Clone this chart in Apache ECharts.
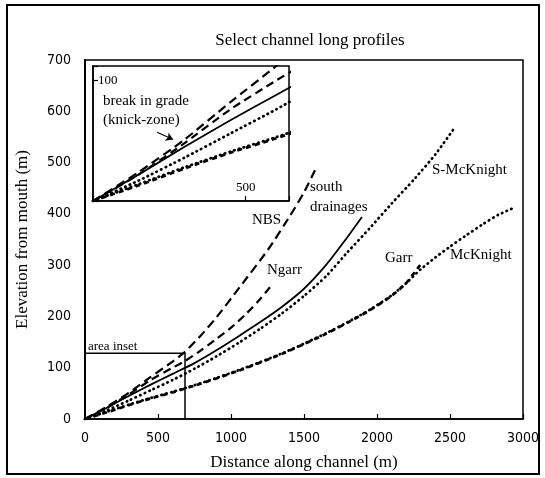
<!DOCTYPE html>
<html><head><meta charset="utf-8">
<script src="https://cdn.jsdelivr.net/npm/echarts@6/dist/echarts.min.js"></script>
<style>html,body{margin:0;padding:0;background:#fff}#c{width:545px;height:478px}</style>
</head><body><div id="c"></div>
<script>
// ---- data (distance along channel m, elevation from mouth m) ----
const nbs = [[0,0],[150,24],[300,51],[450,82],[600,112],[685,131],[800,165],[900,198],[1062,258],[1253,330],[1404,396],[1500,442],[1575,485]];
const ngarr = [[0,0],[150,22],[300,48],[450,76],[600,100],[685,113],[800,135],[900,156],[1000,178],[1100,204],[1200,234],[1267,257]];
const southDrainages = [[0,0],[150,22],[300,45],[450,67],[600,88],[750,109],[900,134],[1050,161],[1200,189],[1350,219],[1500,254],[1650,300],[1780,348],[1897,394]];
const sMcKnight = [[0,0],[150,17],[300,36],[450,56],[600,76],[750,98],[900,122],[1050,148],[1200,176],[1350,206],[1500,240],[1650,278],[1800,326],[1950,372],[2100,420],[2250,466],[2400,516],[2534,569]];
const garr = [[0,0],[150,13],[300,27],[450,40],[600,52],[750,65],[900,79],[1050,94],[1200,110],[1350,127],[1500,146],[1650,166],[1800,188],[1950,212],[2100,240],[2200,265],[2300,302]];
const mcKnight = [[0,0],[150,14],[300,28],[450,41],[600,53],[750,66],[900,80],[1050,95],[1200,111],[1350,128],[1500,147],[1650,167],[1800,189],[1950,213],[2100,241],[2200,265],[2300,292],[2400,315],[2500,336],[2600,356],[2726,380],[2830,398],[2932,411]];
const insetArea = [[0,128],[685,128],[685,0]];
const knickArrow = [[210,57],[262,51]];
const xTickStep = 500, yTickStep = 100;
const xRange = [0,3000], yRange = [0,700];
const insetXRange = [0,642], insetYRange = [0,112];
const insetXLabel = 500, insetYLabel = 100;

const narrow = "'Liberation Sans Narrow','DejaVu Sans Condensed',sans-serif";
const serif = "'Liberation Serif','DejaVu Serif',serif";

const styles = {
  'NBS': {type:[9,5], width:2.2, cap:'butt'},
  'Ngarr': {type:[8,5], width:2.2, cap:'butt'},
  'south drainages': {type:'solid', width:1.8, cap:'butt'},
  'S-McKnight': {type:[0.5,4.5], width:2.7, cap:'round'},
  'Garr': {type:[5,4], width:2.7, cap:'butt'},
  'McKnight': {type:[0.5,4.5], width:2.7, cap:'round'}
};
const dataSets = [['NBS',nbs],['Ngarr',ngarr],['south drainages',southDrainages],['S-McKnight',sMcKnight],['Garr',garr],['McKnight',mcKnight]];

function mk(name, data, idx) {
  const s = styles[name];
  return {
    name, type:'line', data, xAxisIndex:idx, yAxisIndex:idx, smooth:0.2,
    symbol:'none', clip:true, silent:true,
    lineStyle:{color:'#000', width:s.width, type:s.type, cap:s.cap}
  };
}
const series = [];
dataSets.forEach(([n,d]) => series.push(mk(n,d,0)));
dataSets.forEach(([n,d]) => series.push(mk(n,d,1)));
series.push({type:'line', data:insetArea, xAxisIndex:0, yAxisIndex:0, symbol:'none', silent:true,
  lineStyle:{color:'#000', width:1.5}});
series.push({type:'line', data:[], xAxisIndex:1, yAxisIndex:1, symbol:'none', silent:true,
  markLine:{silent:true, symbol:['none','arrow'], symbolSize:7, label:{show:false},
    lineStyle:{color:'#000', width:1.2, type:'solid'},
    data:[[{coord:knickArrow[0]},{coord:knickArrow[1]}]]}});

function txt(text, left, top, size) {
  return {type:'text', left, top, z:100, style:{text, font:`${size}px ${serif}`, fill:'#000'}};
}

const chart = echarts.init(document.getElementById('c'), null, {renderer:'canvas'});
chart.setOption({
  animation:false,
  backgroundColor:'#fff',
  title:{text:'Select channel long profiles', left:305, top:27, textAlign:'center',
    textStyle:{fontFamily:serif, fontSize:17, fontWeight:'normal', color:'#000'}},
  grid:[
    {left:85, right:22, top:60, bottom:59, show:true, borderColor:'#000', borderWidth:1.5, backgroundColor:'transparent'},
    {left:93, top:66, width:196, height:135, show:true, borderColor:'#000', borderWidth:1.5, backgroundColor:'#fff'}
  ],
  xAxis:[
    {type:'value', gridIndex:0, min:xRange[0], max:xRange[1], interval:xTickStep,
      name:'Distance along channel (m)', nameLocation:'middle', nameGap:35,
      nameTextStyle:{fontFamily:serif, fontSize:17, color:'#000'},
      axisLine:{lineStyle:{color:'#000', width:1.5}},
      axisTick:{show:true, inside:true, length:5, lineStyle:{color:'#000', width:1.2}},
      axisLabel:{color:'#000', fontFamily:narrow, fontSize:14, margin:12, formatter:v => String(v)},
      splitLine:{show:false}},
    {type:'value', gridIndex:1, min:insetXRange[0], max:insetXRange[1], interval:xTickStep,
      axisLine:{lineStyle:{color:'#000', width:1.5}},
      axisTick:{show:true, inside:true, length:5, lineStyle:{color:'#000', width:1.2}},
      axisLabel:{inside:true, color:'#000', fontFamily:serif, fontSize:13, margin:7,
        formatter:v => v === insetXLabel ? String(v) : ''},
      splitLine:{show:false}}
  ],
  yAxis:[
    {type:'value', gridIndex:0, min:yRange[0], max:yRange[1], interval:yTickStep,
      name:'Elevation from mouth (m)', nameLocation:'middle', nameGap:54,
      nameTextStyle:{fontFamily:serif, fontSize:17, color:'#000'},
      axisLine:{show:true, lineStyle:{color:'#000', width:2}},
      axisTick:{show:false},
      axisLabel:{color:'#000', fontFamily:narrow, fontSize:14, margin:14, formatter:v => String(v)},
      splitLine:{show:false}},
    {type:'value', gridIndex:1, min:insetYRange[0], max:insetYRange[1], interval:yTickStep,
      axisLine:{show:true, lineStyle:{color:'#000', width:1.5}},
      axisTick:{show:true, inside:true, length:5, lineStyle:{color:'#000', width:1.2}},
      axisLabel:{inside:true, color:'#000', fontFamily:serif, fontSize:13, margin:5,
        formatter:v => v === insetYLabel ? String(v) : ''},
      splitLine:{show:false}}
  ],
  graphic:[
    {type:'rect', shape:{x:7, y:5, width:532, height:469}, z:-1,
      style:{fill:'none', stroke:'#000', lineWidth:2}},
    txt('NBS', 252, 213, 15),
    txt('south', 310, 180, 15),
    txt('drainages', 310, 200, 15),
    txt('Ngarr', 267, 263, 15),
    txt('S-McKnight', 432, 163, 15),
    txt('Garr', 385, 251, 15),
    txt('McKnight', 450, 248, 15),
    txt('area inset', 88, 340, 13),
    txt('break in grade', 103, 94, 15),
    txt('(knick-zone)', 103, 113, 15)
  ],
  series
});
</script></body></html>
